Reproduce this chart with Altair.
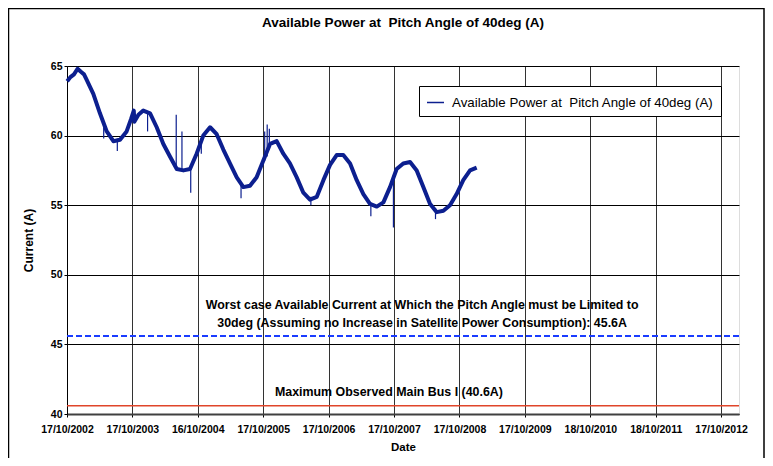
import altair as alt
import pandas as pd

# ---------------- data ----------------
series_name = "Available Power at \u00a0Pitch Angle of 40deg (A)"
chart_title = "Available Power at \u00a0Pitch Angle of 40deg (A)"

dates = [
    "2002-10-18", "2002-11-05", "2002-11-25", "2002-12-15", "2003-01-01", "2003-01-20",
    "2003-02-04", "2003-03-13", "2003-04-19", "2003-05-27", "2003-07-03", "2003-08-09",
    "2003-09-15", "2003-10-10", "2003-10-25", "2003-10-28", "2003-11-20", "2003-12-17",
    "2004-01-24", "2004-03-01", "2004-04-07", "2004-05-14", "2004-06-21", "2004-07-28",
    "2004-09-03", "2004-10-10", "2004-11-16", "2004-12-24", "2005-01-30", "2005-03-08",
    "2005-04-14", "2005-05-22", "2005-06-28", "2005-08-04", "2005-09-10", "2005-10-17",
    "2005-11-24", "2005-12-31", "2006-02-06", "2006-03-15", "2006-04-22", "2006-05-29",
    "2006-07-05", "2006-08-12", "2006-09-18", "2006-10-25", "2006-12-01", "2007-01-07",
    "2007-02-14", "2007-03-23", "2007-04-29", "2007-06-05", "2007-07-13", "2007-08-19",
    "2007-09-25", "2007-11-01", "2007-12-08", "2008-01-15", "2008-02-21", "2008-03-29",
    "2008-05-05", "2008-06-12", "2008-07-19", "2008-08-25", "2008-10-01", "2008-11-07",
    "2008-12-15", "2009-01-21",
]
current = [
    63.9, 64.2, 64.4, 64.8, 64.6, 64.4,
    64.0, 63.0, 61.6, 60.3, 59.6, 59.7,
    60.3, 61.2, 61.8, 61.0, 61.5, 61.8,
    61.6, 60.6, 59.4, 58.5, 57.6, 57.5,
    57.6, 58.7, 60.0, 60.6, 60.1, 59.0,
    58.0, 57.0, 56.3, 56.4, 57.0, 58.2,
    59.4, 59.6, 58.7, 58.0, 57.0, 55.9,
    55.4, 55.6, 56.8, 57.9, 58.6, 58.6,
    58.0, 56.8, 55.8, 55.1, 54.9, 55.2,
    56.3, 57.6, 58.0, 58.1, 57.5, 56.3,
    55.1, 54.5, 54.6, 55.0, 55.8, 56.8,
    57.5, 57.7,
]

spike_dates = ["2003-05-10", "2003-07-25", "2004-01-10", "2004-06-18", "2004-07-20",
               "2004-09-07", "2004-11-05", "2005-06-15", "2005-10-25", "2005-11-08",
               "2005-11-20", "2006-07-10", "2007-06-10", "2007-10-14", "2008-06-05"]
spike_lo = [59.8, 58.9, 60.3, 57.6, 57.5, 55.9, 58.7, 55.5, 58.2, 58.5, 59.0, 55.0, 54.2, 53.4, 54.0]
spike_hi = [60.6, 59.8, 61.7, 61.5, 60.3, 57.8, 59.8, 56.6, 60.3, 60.8, 60.5, 55.6, 55.2, 56.8, 54.8]

tick_dates = [(2002, 10, 17), (2003, 10, 17), (2004, 10, 16), (2005, 10, 17), (2006, 10, 17),
              (2007, 10, 17), (2008, 10, 17), (2009, 10, 17), (2010, 10, 18), (2011, 10, 18),
              (2012, 10, 17)]
x_min = (2002, 10, 17)
x_max = (2013, 1, 25)
y_ticks = [40, 45, 50, 55, 60, 65]

worst_case = 45.6
max_observed = 40.6

note_lines = ["Worst case Available Current at Which the Pitch Angle must be Limited to",
              "30deg (Assuming no Increase in Satellite Power Consumption): 45.6A"]
note_dates = ["2008-03-22", "2008-03-22"]
note_values = [47.83, 46.54]

red_note = ["Maximum Observed Main Bus I (40.6A)"]
red_note_date = ["2007-09-19"]
red_note_value = [41.6]

# ---------------- styling ----------------
NAVY = "#0c1f8f"
BLUE = "#1a3cff"
RED = "#e0452a"
FONT = "Liberation Sans"

W, H = 672, 348
PAD = {"left": 59, "top": 58, "right": 26, "bottom": 44}


def dt(t):
    return alt.DateTime(year=t[0], month=t[1], date=t[2], utc=True)


x_scale = alt.Scale(type="utc", domain=[dt(x_min), dt(x_max)], nice=False)
y_scale = alt.Scale(domain=[40, 65], nice=False, zero=False)

main_df = pd.DataFrame({"date": dates, "current": current, "series": series_name})
spike_df = pd.DataFrame({"date": spike_dates, "current": spike_lo, "hi": spike_hi})
hline_df = pd.DataFrame({"current": [worst_case]})
red_df = pd.DataFrame({"current": [max_observed]})
note_df = pd.DataFrame({"date": note_dates, "current": note_values, "t": note_lines})
red_note_df = pd.DataFrame({"date": red_note_date, "current": red_note_value, "t": red_note})
title_df = pd.DataFrame({"t": [chart_title]})

x_axis = alt.Axis(
    values=[dt(t) for t in tick_dates], labelExpr="utcFormat(datum.value, '%d/%m/%Y')",
    labelFont=FONT, labelFontWeight="bold", labelFontSize=10.5, labelColor="black",
    tickSize=3, tickColor="black", labelPadding=7, labelOverlap=False, labelFlush=False,
    domainColor="#404040", domainWidth=2,
    grid=True, gridColor="#333333", gridWidth=1,
    title="Date", titleFont=FONT, titleFontSize=11.5, titleFontWeight="bold", titleColor="black",
    titleY=33, titleBaseline="middle",
)
y_axis = alt.Axis(
    values=y_ticks, labelFont=FONT, labelFontWeight="bold", labelFontSize=10.5, labelColor="black",
    tickSize=3, tickColor="black", labelPadding=2,
    domainColor="black", domainWidth=1,
    grid=True, gridColor="black", gridWidth=1,
    title="Current (A)", titleFont=FONT, titleFontSize=12, titleFontWeight="bold", titleColor="black",
    titleX=-39, titleY=H / 2, titleAngle=-90, titleAlign="center", titleBaseline="middle",
)

X = alt.X("date:T", scale=x_scale, axis=x_axis, title="Date")
Y = alt.Y("current:Q", scale=y_scale, axis=y_axis, title="Current (A)")

frame = alt.Chart(pd.DataFrame({"a": [0]})).mark_rect(
    fill=None, stroke="black", strokeWidth=1.5
).encode(x=alt.value(-58.5), x2=alt.value(697), y=alt.value(-57.5), y2=alt.value(420))

title_text = alt.Chart(title_df).mark_text(
    font=FONT, fontSize=13.5, fontWeight="bold", color="black", align="center", baseline="middle"
).encode(x=alt.value(W / 2), y=alt.value(-43), text="t:N")

line = alt.Chart(main_df).mark_line(strokeWidth=4, strokeJoin="round").encode(
    x=X, y=Y,
    color=alt.Color("series:N", scale=alt.Scale(domain=[series_name], range=[NAVY]),
                    legend=alt.Legend(title=None, orient="none", legendX=352, legendY=20,
                                      strokeColor="black", fillColor="white", padding=7,
                                      labelFont=FONT, labelFontSize=13.3, labelColor="black",
                                      symbolType="stroke", symbolSize=290, symbolStrokeWidth=1.5,
                                      labelOffset=7, labelLimit=0)),
)

spikes = alt.Chart(spike_df).mark_rule(color=NAVY, strokeWidth=1.2).encode(
    x=X, y=Y, y2="hi:Q",
)

hline = alt.Chart(hline_df).mark_rule(color=BLUE, strokeWidth=2, strokeDash=[6, 3]).encode(y=Y)
red = alt.Chart(red_df).mark_rule(color=RED, strokeWidth=1.5).encode(y=Y)

notes = alt.Chart(note_df).mark_text(
    font=FONT, fontSize=12.4, fontWeight="bold", color="black", align="center", baseline="middle"
).encode(x=X, y=Y, text="t:N")
red_notes = alt.Chart(red_note_df).mark_text(
    font=FONT, fontSize=12.4, fontWeight="bold", color="black", align="center", baseline="middle"
).encode(x=X, y=Y, text="t:N")

chart = alt.layer(frame, title_text, line, spikes, hline, red, notes, red_notes).properties(
    width=W, height=H,
    autosize=alt.AutoSizeParams(type="none"),
    padding=PAD,
).configure_view(stroke="#808080", strokeWidth=2).configure(background="white")

chart.save("out.html", embed_options={"renderer": "svg", "actions": False})
